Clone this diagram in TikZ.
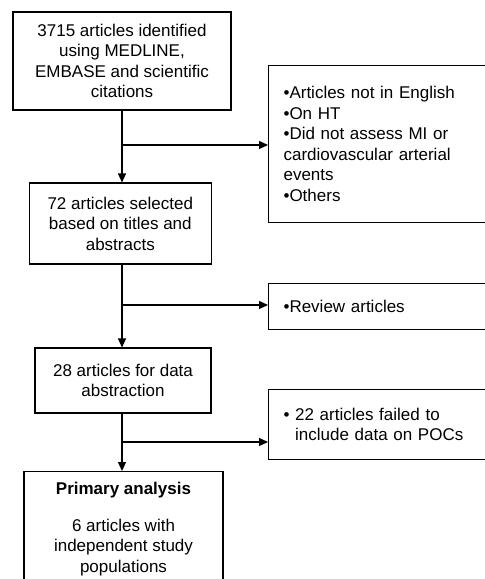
\documentclass[tikz,border=0pt]{standalone}
\usepackage{fontspec}
\setmainfont{Liberation Sans}
\usetikzlibrary{arrows.meta}
\begin{document}
\begin{tikzpicture}[x=1pt,y=-1pt,
  every node/.style={font=\fontsize{17}{20.5}\selectfont},
  box/.style={draw,line width=1.1pt,inner sep=0pt,align=center},
  rbox/.style={draw,line width=1.1pt,anchor=north west,inner xsep=15pt,inner ysep=0pt,text width=220pt,align=left},
  arr/.style={line width=1.1pt,-{Triangle[length=9pt,width=8pt]}}]
\useasboundingbox (0,0) rectangle (485,579);
\clip (0,0) rectangle (485,579);
\node[box,minimum width=218pt,minimum height=98pt] (b1) at (122,61)
  {3715 articles identified\\using MEDLINE,\\EMBASE and scientific\\citations};
\node[box,minimum width=182.5pt,minimum height=81pt] (b2) at (120.3,223.5)
  {72 articles selected\\based on titles and\\abstracts};
\node[box,minimum width=176pt,minimum height=65pt] (b3) at (123,380.5)
  {28 articles for data\\abstraction};
\node[box,anchor=north,minimum width=199pt,inner ysep=11pt] (b4) at (123.5,471)
  {\textbf{Primary analysis}\\[16pt]6 articles with\\independent study\\populations\\[4pt]};
\node[rbox,minimum height=157pt] (r1) at (268,65)
  {•Articles not in English\\•On HT\\•Did not assess MI or\\cardiovascular arterial\\events\\•Others\\[-2pt]};
\node[rbox,minimum height=46pt] (r2) at (268,283)
  {•Review articles\\[6pt]};
\node[rbox,minimum height=70pt] (r3) at (268,389)
  {• 22 articles failed to\\\phantom{• }include data on POCs\\[6pt]};
\coordinate (j1) at (122,145);
\coordinate (j2) at (122,305);
\coordinate (j3) at (122,442);
\draw[arr] (b1.south) -- (b1.south |- b2.north);
\draw[arr] (j1) -- (j1 -| r1.west);
\draw[arr] (j1 |- b2.south) -- (j1 |- b3.north);
\draw[arr] (j2) -- (j2 -| r2.west);
\draw[arr] (j1 |- b3.south) -- (j1 |- b4.north);
\draw[arr] (j3) -- (j3 -| r3.west);
\end{tikzpicture}
\end{document}
